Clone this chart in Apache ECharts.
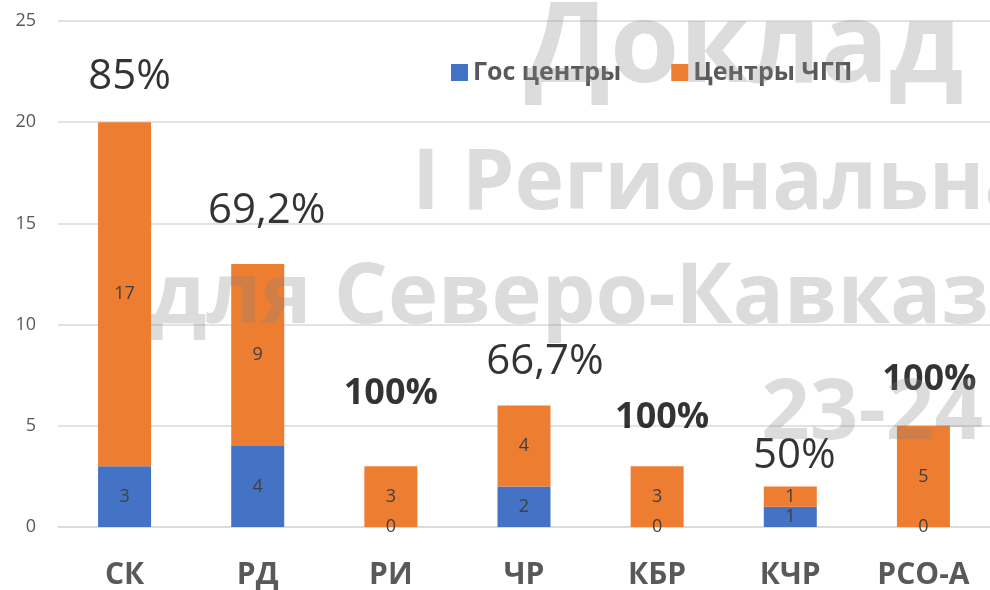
<!DOCTYPE html>
<html>
<head>
<meta charset="utf-8">
<script src="https://cdn.jsdelivr.net/npm/echarts@6/dist/echarts.min.js"></script>
<style>
  html, body { margin: 0; padding: 0; background: #fff; }
  #main { width: 990px; height: 590px; }
</style>
</head>
<body>
<div id="main"></div>
<script>
// regions
const regions = ["СК", "РД", "РИ", "ЧР", "КБР", "КЧР", "РСО-А"];
// state-run centres and public-private partnership centres
const govCentres = [3, 4, 0, 2, 0, 1, 0];
const pppCentres = [17, 9, 3, 4, 3, 1, 5];
// share of PPP centres, as written above the bars
const pppShare = ["85%", "69,2%", "100%", "66,7%", "100%", "50%", "100%"];
const yTicks = [0, 5, 10, 15, 20, 25];

// hand-placed label nudges (the original labels were dragged around)
const shareOffsets = [[5, -45], [9, -53], [0, -73], [21, -44], [5, -49], [4, -30], [6, -46]];

const totals = govCentres.map((v, i) => v + pppCentres[i]);

const font = '"Open Sans", "Liberation Sans", sans-serif';
const insideLabel = {
  show: true,
  position: "inside",
  color: "#404040",
  fontSize: 18,
  fontFamily: font
};

var chartDom = document.getElementById("main");
var myChart = echarts.init(chartDom);

const watermark = (text, x, y, size, align) => ({
  type: "text",
  x: x,
  y: y,
  z: 100,
  silent: true,
  style: {
    text: text,
    font: "bold " + size + "px " + font,
    fill: "rgba(128,128,128,0.28)",
    textAlign: align,
    textVerticalAlign: "middle",
    shadowColor: "rgba(0,0,0,0.15)",
    shadowBlur: 6,
    shadowOffsetY: 4
  }
});

var option = {
  animation: false,
  grid: { left: 58, right: -3, top: 21, bottom: 63 },
  legend: {
    left: 446,
    top: 55,
    itemWidth: 17,
    itemHeight: 17,
    itemGap: 50,
    icon: "rect",
    textStyle: { color: "#595959", fontSize: 25, fontWeight: "bold", fontFamily: font },
    data: ["Гос центры", "Центры ЧГП"]
  },
  xAxis: {
    type: "category",
    data: regions,
    axisTick: { show: false },
    axisLine: { lineStyle: { color: "#d9d9d9", width: 1.5 } },
    axisLabel: { color: "#595959", fontSize: 30, fontWeight: "bold", fontFamily: font, margin: 33 }
  },
  yAxis: {
    type: "value",
    min: yTicks[0],
    max: yTicks[yTicks.length - 1],
    interval: yTicks[1] - yTicks[0],
    axisLine: { show: false },
    axisTick: { show: false },
    splitLine: { lineStyle: { color: "#d9d9d9", width: 1.5 } },
    axisLabel: { color: "#595959", fontSize: 18, fontFamily: font, margin: 22 }
  },
  series: [
    {
      name: "Гос центры",
      type: "bar",
      stack: "total",
      barWidth: 53,
      itemStyle: { color: "#4472C4" },
      label: insideLabel,
      data: govCentres
    },
    {
      name: "Центры ЧГП",
      type: "bar",
      stack: "total",
      barWidth: 53,
      itemStyle: { color: "#ED7D31" },
      label: insideLabel,
      data: pppCentres
    },
    {
      name: "share",
      type: "scatter",
      symbolSize: 0,
      silent: true,
      z: 10,
      data: totals.map((t, i) => ({
        value: t,
        label: {
          show: true,
          position: "inside",
          offset: shareOffsets[i],
          formatter: pppShare[i],
          color: "#000",
          fontFamily: font,
          fontSize: pppShare[i] === "100%" ? 36 : 42,
          fontWeight: pppShare[i] === "100%" ? "bold" : "normal"
        }
      }))
    }
  ],
  graphic: [
    watermark("Доклад", 963, 50, 112, "right"),
    watermark("I Региональна", 412, 185, 84, "left"),
    watermark("для Северо-Кавказс", 150, 299, 85, "left"),
    watermark("23-24", 983, 415, 85, "right")
  ]
};

option && myChart.setOption(option);
</script>
</body>
</html>
